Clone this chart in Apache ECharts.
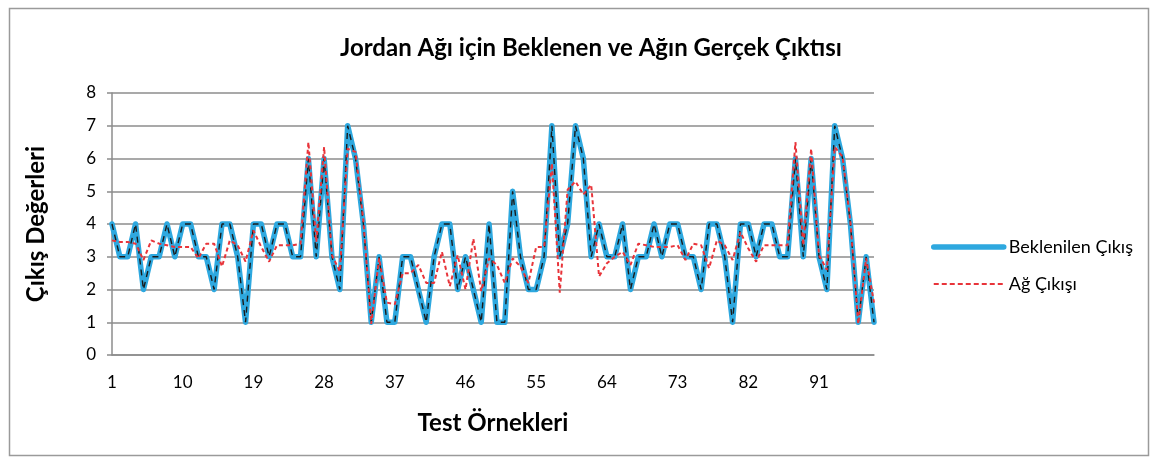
<!DOCTYPE html>
<html>
<head>
<meta charset="utf-8">
<script src="https://cdn.jsdelivr.net/npm/echarts@6/dist/echarts.min.js"></script>
<style>
  html, body { margin: 0; padding: 0; background: #fff; }
  #chart { width: 1158px; height: 466px; }
</style>
</head>
<body>
<div id="chart"></div>
<script>
// test sample numbers 1..98
const samples = [];
for (let i = 1; i <= 98; i++) samples.push(String(i));

// expected output (Beklenilen Çıkış)
const expected = [
  4, 3, 3, 4, 2, 3, 3, 4, 3, 4, 4, 3, 3, 2, 4, 4, 3, 1, 4, 4,
  3, 4, 4, 3, 3, 6, 3, 6, 3, 2, 7, 6, 4, 1, 3, 1, 1, 3, 3, 2,
  1, 3, 4, 4, 2, 3, 2, 1, 4, 1, 1, 5, 3, 2, 2, 3, 7, 3, 4, 7,
  6, 3, 4, 3, 3, 4, 2, 3, 3, 4, 3, 4, 4, 3, 3, 2, 4, 4, 3, 1,
  4, 4, 3, 4, 4, 3, 3, 6, 3, 6, 3, 2, 7, 6, 4, 1, 3, 1
];

// network output (Ağ Çıkışı)
const network = [
  3.5, 3.45, 3.45, 3.4, 2.9, 3.5, 3.4, 3.35, 3.3, 3.3,
  3.3, 2.95, 3.4, 3.4, 2.7, 3.5, 3.35, 2.85, 3.8, 3.3,
  2.85, 3.35, 3.35, 3.35, 3.4, 6.5, 3.45, 6.35, 3.05, 2.55,
  6.3, 6.2, 4.1, 0.95, 2.95, 1.6, 1.55, 2.5, 2.5, 2.75,
  2.2, 2.2, 3.15, 2.1, 3.05, 2.0, 3.55, 1.95, 2.95, 2.75,
  2.2, 2.95, 2.7, 2.2, 3.3, 3.3, 5.85, 1.9, 5.05, 5.3,
  4.9, 5.2, 2.4, 2.8, 3.0, 3.15, 2.75, 3.4, 3.35, 3.3,
  3.3, 3.3, 3.35, 2.9, 3.4, 3.35, 2.65, 3.5, 3.35, 2.9,
  3.75, 3.25, 2.85, 3.35, 3.35, 3.35, 3.35, 6.5, 3.35, 6.3,
  3.05, 2.6, 6.35, 6.05, 4.05, 0.95, 2.95, 1.6
];

const yTicks = [0, 1, 2, 3, 4, 5, 6, 7, 8];

const FONT = "Lato, 'Open Sans', sans-serif";
const GRID_COLOR = "#8c8c8c";
const BLUE = "#2ea8df";
const RED = "#e8343a";

const chart = echarts.init(document.getElementById("chart"));

chart.setOption({
  animation: false,
  backgroundColor: "#fff",
  textStyle: { fontFamily: FONT, color: "#000" },
  title: {
    text: "Jordan Ağı için Beklenen ve Ağın Gerçek Çıktısı",
    left: 586,
    top: 31,
    textAlign: "center",
    textStyle: { fontFamily: FONT, fontSize: 24, fontWeight: "bold", color: "#000" },
  },
  legend: {
    orient: "vertical",
    left: 926,
    top: 233,
    itemWidth: 70,
    itemHeight: 14,
    itemGap: 19,
    data: [
      { name: "Beklenilen Çıkış", lineStyle: { width: 5.5, color: BLUE, cap: "round" } },
      { name: "Ağ Çıkışı", lineStyle: { width: 2, color: RED, type: [5, 3] } },
    ],
    itemStyle: { opacity: 0 },
    textStyle: { fontFamily: FONT, fontSize: 18, color: "#000" },
  },
  grid: { left: 112, right: 284, top: 93, bottom: 111 },
  xAxis: {
    type: "category",
    data: samples,
    boundaryGap: false,
    name: "Test Örnekleri",
    nameLocation: "middle",
    nameGap: 56,
    nameTextStyle: { fontFamily: FONT, fontSize: 24, fontWeight: "bold", color: "#000" },
    axisLine: { lineStyle: { color: GRID_COLOR, width: 1.5 } },
    axisTick: { show: false },
    axisLabel: { interval: 8, fontSize: 17, color: "#000", margin: 19 },
  },
  yAxis: {
    type: "value",
    min: yTicks[0],
    max: yTicks[yTicks.length - 1],
    interval: 1,
    name: "Çıkış Değerleri",
    nameLocation: "middle",
    nameGap: 64,
    nameTextStyle: { fontFamily: FONT, fontSize: 24, fontWeight: "bold", color: "#000" },
    axisLine: { show: true, lineStyle: { color: GRID_COLOR, width: 1.5 } },
    axisTick: { show: true, length: 5, lineStyle: { color: GRID_COLOR, width: 1.5 } },
    axisLabel: { fontSize: 17, color: "#000", margin: 16 },
    splitLine: { lineStyle: { color: GRID_COLOR, width: 1.5 } },
  },
  series: [
    {
      name: "Beklenilen Çıkış",
      type: "line",
      data: expected,
      symbol: "none",
      color: BLUE,
      lineStyle: { color: BLUE, width: 5.5, join: "round", cap: "round" },
      z: 2,
    },
    {
      name: "target",
      type: "line",
      data: expected,
      symbol: "none",
      color: "#1a1a1a",
      lineStyle: { color: "#1a1a1a", width: 1.4, type: [6, 5] },
      z: 3,
    },
    {
      name: "Ağ Çıkışı",
      type: "line",
      data: network,
      symbol: "none",
      color: RED,
      lineStyle: { color: RED, width: 2, type: [4, 3] },
      z: 4,
    },
  ],
  graphic: [
    {
      type: "rect",
      shape: { x: 9.5, y: 8.5, width: 1139, height: 447 },
      style: { fill: null, stroke: "#9a9a9a", lineWidth: 1.5 },
      silent: true,
    },
  ],
});
</script>
</body>
</html>
